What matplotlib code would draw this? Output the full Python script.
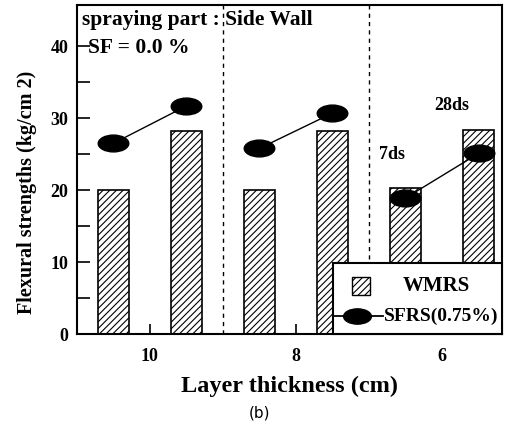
import numpy as np
import matplotlib
matplotlib.use("Agg")
import matplotlib.pyplot as plt
from matplotlib.path import Path
from matplotlib.patches import Rectangle

# Data
groups = ["10", "8", "6"]
wmrs_7d = [20.0, 20.0, 20.3]
wmrs_28d = [28.2, 28.2, 28.4]
sfrs_7d = [26.5, 25.8, 18.9]
sfrs_28d = [31.7, 30.7, 25.1]

plt.rcParams["font.family"] = ["Liberation Serif", "DejaVu Serif"]
plt.rcParams["hatch.linewidth"] = 0.8

# flattened ellipse marker
circ = Path.unit_circle()
ellipse = Path(circ.vertices * np.array([1.0, 0.55]), circ.codes)

fig = plt.figure(figsize=(5.09, 4.30), dpi=100)
ax = fig.add_axes([0.151, 0.223, 0.835, 0.765])

x = np.arange(len(groups))
off = 0.25
w = 0.21
ax.bar(x - off, wmrs_7d, width=w, color="white", edgecolor="black",
       hatch="/////", linewidth=1.2, zorder=2)
ax.bar(x + off, wmrs_28d, width=w, color="white", edgecolor="black",
       hatch="/////", linewidth=1.2, zorder=2)

for i in range(len(groups)):
    ax.plot([x[i] - off, x[i] + off], [sfrs_7d[i], sfrs_28d[i]], color="black",
            linewidth=1.0, marker=ellipse, markersize=22, markerfacecolor="black",
            markeredgecolor="black", zorder=3)

for d in [0.5, 1.5]:
    ax.axvline(d, color="black", linewidth=1.0, linestyle=(0, (3, 3)), zorder=1)

ax.set_xlim(-0.5, 2.41)
ax.set_ylim(0, 45.7)
ax.set_xticks(x)
ax.set_xticklabels(groups)
ax.set_yticks([0, 10, 20, 30, 40])
ax.set_yticks([5, 15, 25, 35], minor=True)
ax.tick_params(axis="y", which="both", direction="in", length=9, width=1.2,
               labelsize=13, pad=6)
ax.tick_params(axis="x", direction="in", length=7, width=1.2, labelsize=13, pad=10)
for lbl in ax.get_xticklabels() + ax.get_yticklabels():
    lbl.set_fontweight("bold")
for s in ax.spines.values():
    s.set_linewidth(1.5)

ax.set_ylabel("Flexural strengths (kg/cm 2)", fontsize=14.5, fontweight="bold")
ax.yaxis.set_label_coords(-0.094, 0.43)
ax.set_xlabel("Layer thickness (cm)", fontsize=17.5, fontweight="bold", labelpad=8)

ax.text(0.013, 0.985, "spraying part : Side Wall", transform=ax.transAxes,
        fontsize=15.5, fontweight="bold", va="top", ha="left")
ax.text(0.026, 0.9, "SF = 0.0 %", transform=ax.transAxes,
        fontsize=15.5, fontweight="bold", va="top", ha="left")
ax.text(2.07, 31.8, "28ds", fontsize=13, fontweight="bold", ha="center", va="center")
ax.text(1.66, 24.9, "7ds", fontsize=13, fontweight="bold", ha="center", va="center")

# legend box drawn by hand to keep the original layout
box = Rectangle((0.602, 0.0), 0.398, 0.216, transform=ax.transAxes,
                facecolor="white", edgecolor="black", linewidth=1.5,
                zorder=5, clip_on=False)
ax.add_patch(box)
ax.add_patch(Rectangle((0.647, 0.119), 0.042, 0.054, transform=ax.transAxes,
                       facecolor="white", edgecolor="black", hatch="/////",
                       linewidth=1.0, zorder=6))
ax.text(0.845, 0.146, "WMRS", transform=ax.transAxes, fontsize=15,
        fontweight="bold", ha="center", va="center", zorder=6)
ax.plot([0.605, 0.72], [0.055, 0.055], transform=ax.transAxes, color="black",
        linewidth=1.3, zorder=6, clip_on=False)
ax.plot([0.659], [0.055], transform=ax.transAxes, marker=ellipse, markersize=20,
        color="black", zorder=7, clip_on=False)
ax.text(0.722, 0.055, "SFRS(0.75%)", transform=ax.transAxes, fontsize=14,
        fontweight="bold", ha="left", va="center", zorder=6)

fig.text(0.51, 0.04, "(b)", fontsize=11, ha="center", va="center",
         family="DejaVu Sans")

fig.savefig("out.png", dpi=100)
